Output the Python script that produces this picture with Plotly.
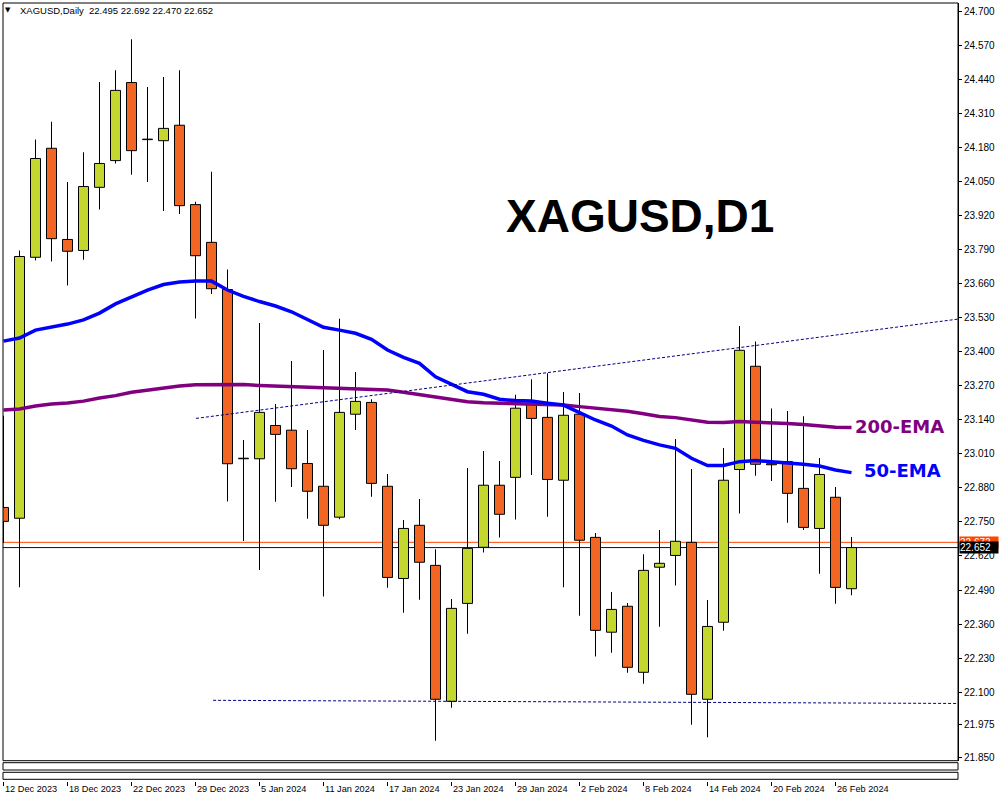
import plotly.graph_objects as go
import pandas as pd

# ---------------- data ----------------
holidays = ["2023-12-25", "2024-01-01"]
dates = [d for d in pd.bdate_range("2023-12-12", "2024-02-27") if d.strftime("%Y-%m-%d") not in holidays]
date_labels = [f"{d.day} {d.strftime('%b %Y')}" for d in dates]

opens = [22.805, 22.764, 23.760, 24.176, 23.828, 23.786, 24.027, 24.129, 24.427, 24.209,
         24.205, 24.264, 23.961, 23.817, 23.637, 22.991, 22.991, 23.118, 23.100, 22.973,
         22.886, 22.768, 23.161, 23.206, 22.886, 22.534, 22.737, 22.584, 22.065, 22.439,
         22.653, 22.890, 22.920, 23.203, 23.149, 22.909, 23.161, 22.691, 22.329, 22.428,
         22.176, 22.577, 22.622, 22.672, 22.073, 22.367, 22.950, 23.344, 22.972, 22.980,
         22.878, 22.725, 22.844, 22.495]
highs = [23.155, 23.786, 24.210, 24.277, 24.047, 24.161, 24.429, 24.474, 24.592, 24.410,
         24.448, 24.474, 23.972, 24.086, 23.713, 23.063, 23.509, 23.200, 23.364, 23.101,
         23.406, 23.525, 23.322, 23.218, 22.933, 22.757, 22.837, 22.646, 22.456, 22.956,
         23.021, 22.982, 23.235, 23.294, 23.317, 23.246, 23.242, 22.708, 22.482, 22.440,
         22.627, 22.719, 23.066, 22.952, 22.452, 23.032, 23.498, 23.439, 23.183, 23.173,
         23.153, 22.994, 22.883, 22.692]
lows = [22.670, 22.501, 23.748, 23.744, 23.652, 23.751, 23.942, 24.118, 24.075, 24.047,
        23.937, 23.925, 23.526, 23.620, 22.828, 22.677, 22.566, 22.827, 22.883, 22.762,
        22.465, 22.760, 23.101, 22.846, 22.499, 22.403, 22.453, 21.915, 22.041, 22.323,
        22.633, 22.690, 22.759, 22.929, 22.770, 22.501, 22.392, 22.236, 22.251, 22.174,
        22.132, 22.350, 22.507, 21.976, 21.928, 22.335, 22.782, 22.926, 22.906, 22.747,
        22.719, 22.552, 22.438, 22.470]
closes = [22.752, 23.763, 24.137, 23.831, 23.783, 24.030, 24.118, 24.397, 24.167, 24.211,
          24.252, 23.957, 23.766, 23.640, 22.972, 22.993, 23.168, 23.084, 22.953, 22.867,
          22.737, 23.168, 23.210, 22.897, 22.538, 22.725, 22.596, 22.073, 22.420, 22.649,
          22.890, 22.779, 23.184, 23.145, 22.912, 23.157, 22.680, 22.336, 22.416, 22.195,
          22.565, 22.592, 22.676, 22.092, 22.351, 22.909, 23.405, 22.970, 22.968, 22.859,
          22.729, 22.931, 22.500, 22.652]

ema50 = [23.440, 23.452, 23.482, 23.494, 23.505, 23.521, 23.547, 23.582, 23.608, 23.635,
         23.656, 23.666, 23.669, 23.669, 23.635, 23.611, 23.591, 23.574, 23.552, 23.521,
         23.493, 23.482, 23.470, 23.447, 23.406, 23.378, 23.355, 23.304, 23.276, 23.247,
         23.237, 23.218, 23.213, 23.211, 23.203, 23.196, 23.167, 23.139, 23.116, 23.082,
         23.061, 23.044, 23.031, 22.993, 22.965, 22.965, 22.980, 22.984, 22.980, 22.976,
         22.970, 22.963, 22.948, 22.938]
ema200 = [23.177, 23.181, 23.192, 23.200, 23.204, 23.211, 23.223, 23.232, 23.245, 23.253,
          23.263, 23.269, 23.273, 23.274, 23.274, 23.274, 23.271, 23.269, 23.266, 23.264,
          23.261, 23.260, 23.259, 23.256, 23.253, 23.245, 23.236, 23.228, 23.218, 23.209,
          23.205, 23.203, 23.203, 23.200, 23.199, 23.196, 23.190, 23.185, 23.180, 23.172,
          23.163, 23.152, 23.148, 23.139, 23.130, 23.129, 23.133, 23.130, 23.129, 23.126,
          23.122, 23.116, 23.111, 23.110]

trend_upper_x = [12.03, 59.66]
trend_upper_y = [23.145, 23.524]
trend_lower_x = [13.1, 59.66]
trend_lower_y = [22.069, 22.057]

bid_price = 22.652
ask_price = 22.672

ytick_vals = [24.700, 24.570, 24.440, 24.310, 24.180, 24.050, 23.920, 23.790, 23.660,
              23.530, 23.400, 23.270, 23.140, 23.010, 22.880, 22.750, 22.620, 22.490,
              22.360, 22.230, 22.100, 21.975, 21.850]
ytick_text = [f"{v:.3f}" for v in ytick_vals]
xtick_idx = list(range(0, len(dates), 4))

header_symbol = "XAGUSD,Daily"
header_values = "22.495 22.692 22.470 22.652"
title_text = "XAGUSD,D1"

# ---------------- style ----------------
UP = "#C3D72F"
DOWN = "#F26522"
FONT = "Liberation Sans"

n = len(opens)
idx = list(range(n))
body_base = [min(o, c) for o, c in zip(opens, closes)]
body_h = [max(abs(c - o), 0.002) for o, c in zip(opens, closes)]
body_col = [UP if c >= o else DOWN for o, c in zip(opens, closes)]

fig = go.Figure()

# wicks (as thin bars so bodies cover them)
fig.add_trace(go.Bar(x=idx, y=[h - l for h, l in zip(highs, lows)], base=lows,
                     width=1 / 16, marker=dict(color="black", line=dict(width=0)),
                     hoverinfo="skip", showlegend=False))
# bodies
fig.add_trace(go.Bar(x=idx, y=body_h, base=body_base, width=0.625,
                     marker=dict(color=body_col, line=dict(color="black", width=1)),
                     hoverinfo="skip", showlegend=False))
# EMAs
fig.add_trace(go.Scatter(x=idx, y=ema200, mode="lines", line=dict(color="#800080", width=3.5),
                         hoverinfo="skip", showlegend=False))
fig.add_trace(go.Scatter(x=idx, y=ema50, mode="lines", line=dict(color="#0000FF", width=3.5),
                         hoverinfo="skip", showlegend=False))
# trend lines
for tx, ty in ((trend_upper_x, trend_upper_y), (trend_lower_x, trend_lower_y)):
    fig.add_trace(go.Scatter(x=tx, y=ty, mode="lines",
                             line=dict(color="#000080", width=1, dash="3px,2px"),
                             hoverinfo="skip", showlegend=False))

# ---------------- layout ----------------
W, H = 1000, 800
ml, mr, mt, mb = 3, 42, 3, 19
plot_h = H - mt - mb
main_bottom_px = 760.7
dom_bottom = (H - mb - main_bottom_px) / plot_h


def py(px):  # pixel y -> paper y
    return (H - mb - px) / plot_h


def pxx(px):  # pixel x -> paper x
    return (px - ml) / (W - ml - mr)


y_top = 24.7 + (11 - mt) / 262.0
y_bot = 24.7 - (main_bottom_px - 11) / 262.0
x_left = (ml - 3.5) / 16.0
x_right = (W - mr - 3.5) / 16.0

shapes = [
    # bid / ask lines
    dict(type="line", xref="paper", x0=0, x1=1, yref="y", y0=ask_price, y1=ask_price,
         line=dict(color="#FF4500", width=1), layer="below"),
    dict(type="line", xref="paper", x0=0, x1=1, yref="y", y0=bid_price, y1=bid_price,
         line=dict(color="#000080", width=1), layer="below"),
    # main frame
    dict(type="rect", xref="paper", yref="paper", x0=0, x1=1, y0=dom_bottom, y1=1,
         line=dict(color="black", width=1)),
    # empty sub windows
    dict(type="rect", xref="paper", yref="paper", x0=0, x1=1, y0=py(770.0), y1=py(762.7),
         line=dict(color="black", width=1)),
    dict(type="rect", xref="paper", yref="paper", x0=0, x1=1, y0=py(779.3), y1=py(772.3),
         line=dict(color="black", width=1)),
]

annotations = [
    dict(text="▼", xref="paper", yref="paper", x=pxx(8), y=py(9.5), showarrow=False,
         xanchor="center", yanchor="middle", font=dict(family="DejaVu Sans", size=7, color="black")),
    dict(text=header_symbol, xref="paper", yref="paper", x=pxx(18), y=py(10), showarrow=False,
         xanchor="left", yanchor="middle", font=dict(family=FONT, size=9.5, color="black")),
    dict(text=header_values, xref="paper", yref="paper", x=pxx(87), y=py(10), showarrow=False,
         xanchor="left", yanchor="middle", font=dict(family=FONT, size=9.5, color="black")),
    dict(text=f"<b>{title_text}</b>", xref="paper", yref="paper", x=pxx(640), y=py(216.5),
         showarrow=False, xanchor="center", yanchor="middle",
         font=dict(family=FONT, size=46, color="black")),
    dict(text="<b>200-EMA</b>", xref="x", yref="y", x=(853 - 3.5) / 16, y=24.7 - (426 - 11) / 262,
         showarrow=False, xanchor="left", yanchor="middle",
         font=dict(family="DejaVu Sans", size=18, color="#800080")),
    dict(text="<b>50-EMA</b>", xref="x", yref="y", x=(862 - 3.5) / 16, y=24.7 - (470.5 - 11) / 262,
         showarrow=False, xanchor="left", yanchor="middle",
         font=dict(family="DejaVu Sans", size=18, color="#0000FF")),
    # price labels
    dict(text=f"{ask_price:.3f}", xref="paper", yref="y", x=1, y=ask_price, xshift=1,
         showarrow=False, xanchor="left", yanchor="middle", align="left",
         bgcolor="#FF4500", borderpad=0, width=38, height=11,
         font=dict(family=FONT, size=10, color="white")),
    dict(text=f"{bid_price:.3f}", xref="paper", yref="y", x=1, y=bid_price, xshift=1,
         showarrow=False, xanchor="left", yanchor="middle", align="left",
         bgcolor="black", borderpad=0, width=38, height=11,
         font=dict(family=FONT, size=10, color="white")),
]

for i in xtick_idx:
    annotations.append(dict(text=date_labels[i], xref="x", yref="paper", x=i, y=py(789),
                            xshift=-1, showarrow=False, xanchor="left", yanchor="middle",
                            font=dict(family=FONT, size=9.2, color="black")))

fig.update_layout(
    width=W, height=H,
    margin=dict(l=ml, r=mr, t=mt, b=mb, pad=0),
    paper_bgcolor="white", plot_bgcolor="white",
    barmode="overlay", hovermode=False, showlegend=False,
    shapes=shapes, annotations=annotations,
    xaxis=dict(range=[x_left, x_right], anchor="free", position=0,
               showgrid=False, zeroline=False, showline=False,
               tickvals=xtick_idx, ticks="outside", ticklen=4, tickcolor="black",
               showticklabels=False, fixedrange=True),
    yaxis=dict(range=[y_bot, y_top], domain=[dom_bottom, 1], side="right", anchor="x",
               showgrid=False, zeroline=False, showline=True, linecolor="black", linewidth=1,
               tickvals=ytick_vals, ticktext=ytick_text, ticks="outside", ticklen=3,
               tickcolor="black", tickfont=dict(family=FONT, size=10, color="black"),
               fixedrange=True),
)

fig.write_html("out.html", config={"displayModeBar": False},
               post_script="document.body.style.margin='0px';document.body.style.overflow='hidden';")
